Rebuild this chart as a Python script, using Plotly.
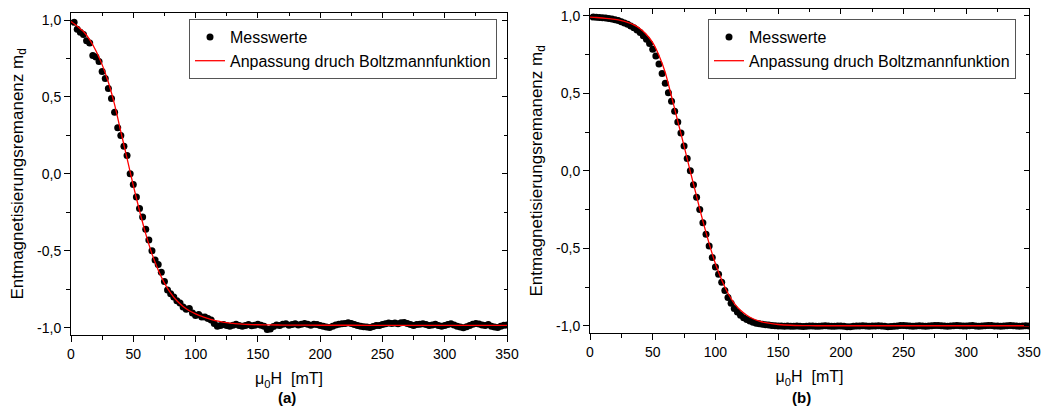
import plotly.graph_objects as go

# ---------------- data ----------------
field_mT = [
    2.5, 5, 7.5, 10, 12.5, 15, 17.5, 20, 22.5, 25,
    27.5, 30, 32.5, 35, 37.5, 40, 42.5, 45, 47.5, 50,
    52.5, 55, 57.5, 60, 62.5, 65, 67.5, 70, 72.5, 75,
    77.5, 80, 82.5, 85, 87.5, 90, 92.5, 95, 97.5, 100,
    102.5, 105, 107.5, 110, 112.5, 115, 117.5, 120, 122.5, 125,
    127.5, 130, 132.5, 135, 137.5, 140, 142.5, 145, 147.5, 150,
    152.5, 155, 157.5, 160, 162.5, 165, 167.5, 170, 172.5, 175,
    177.5, 180, 182.5, 185, 187.5, 190, 192.5, 195, 197.5, 200,
    202.5, 205, 207.5, 210, 212.5, 215, 217.5, 220, 222.5, 225,
    227.5, 230, 232.5, 235, 237.5, 240, 242.5, 245, 247.5, 250,
    252.5, 255, 257.5, 260, 262.5, 265, 267.5, 270, 272.5, 275,
    277.5, 280, 282.5, 285, 287.5, 290, 292.5, 295, 297.5, 300,
    302.5, 305, 307.5, 310, 312.5, 315, 317.5, 320, 322.5, 325,
    327.5, 330, 332.5, 335, 337.5, 340, 342.5, 345, 347.5, 350,
]

md_a = [
    0.985, 0.94, 0.92, 0.905, 0.865, 0.85, 0.77, 0.76, 0.73, 0.665,
    0.62, 0.555, 0.49, 0.40, 0.30, 0.25, 0.18, 0.12, 0.00, -0.07,
    -0.15, -0.225, -0.28, -0.36, -0.43, -0.50, -0.56, -0.59, -0.64, -0.70,
    -0.755, -0.78, -0.80, -0.825, -0.84, -0.865, -0.88, -0.875, -0.905, -0.92,
    -0.915, -0.93, -0.93, -0.94, -0.95, -0.972, -0.99, -0.985, -0.98, -0.986,
    -0.99, -0.984, -0.978, -0.985, -0.99, -0.986, -0.98, -0.988, -0.984, -0.978,
    -0.984, -0.99, -1.012, -1.008, -0.992, -0.982, -0.985, -0.978, -0.975, -0.984,
    -0.98, -0.974, -0.982, -0.978, -0.972, -0.978, -0.984, -0.978, -0.98, -0.986,
    -0.99, -0.996, -0.998, -0.99, -0.982, -0.978, -0.975, -0.972, -0.968, -0.972,
    -0.98, -0.985, -0.99, -0.994, -0.996, -0.998, -0.992, -0.986, -0.985, -0.98,
    -0.975, -0.97, -0.972, -0.97, -0.975, -0.968, -0.966, -0.972, -0.98, -0.985,
    -0.98, -0.978, -0.975, -0.98, -0.986, -0.982, -0.978, -0.985, -0.99, -0.986,
    -0.98, -0.975, -0.982, -0.99, -0.996, -1.0, -0.994, -0.985, -0.978, -0.972,
    -0.976, -0.982, -0.985, -0.98, -0.99, -0.996, -0.998, -0.99, -0.984, -0.982,
]

md_b = [
    0.993, 0.992, 0.99, 0.989, 0.987, 0.984, 0.98, 0.976, 0.97, 0.963,
    0.955, 0.946, 0.936, 0.924, 0.91, 0.893, 0.873, 0.85, 0.822, 0.785,
    0.742, 0.69, 0.628, 0.565, 0.505, 0.45, 0.385, 0.315, 0.245, 0.16,
    0.08, 0.0, -0.09, -0.17, -0.25, -0.335, -0.41, -0.485, -0.56, -0.62,
    -0.668, -0.72, -0.772, -0.818, -0.855, -0.888, -0.912, -0.932, -0.948, -0.96,
    -0.97, -0.978, -0.984, -0.988, -0.991, -0.994, -0.996, -0.998, -1.0, -1.001,
    -1.002, -1.003, -1.002, -1.004, -1.003, -1.002, -1.004, -1.005, -1.003, -1.002,
    -1.001, -1.003, -1.004, -1.002, -1.0, -1.002, -1.003, -1.004, -1.002, -1.001,
    -1.003, -1.006, -1.007, -1.004, -1.002, -1.001, -1.0, -1.002, -1.003, -1.002,
    -1.001, -1.0, -1.002, -1.004, -1.006, -1.005, -1.003, -1.001, -0.999, -0.998,
    -1.0, -1.002, -1.003, -1.001, -1.0, -1.002, -1.003, -1.002, -1.0, -0.999,
    -0.998, -1.0, -1.001, -1.003, -1.002, -1.0, -0.999, -1.0, -1.002, -1.001,
    -1.0, -0.999, -1.001, -1.003, -1.002, -1.0, -0.998, -0.999, -1.001, -1.002,
    -1.003, -1.002, -1.0, -0.999, -1.0, -1.002, -1.003, -1.001, -1.0, -1.002,
]

fit_mT = [
    0, 5, 10, 15, 20, 25, 30, 35, 40, 45, 50, 55, 60, 65, 70, 75, 80, 85, 90, 95,
    100, 105, 110, 115, 120, 125, 130, 135, 140, 145, 150,
    160, 170, 180, 200, 225, 250, 275, 300, 325, 350,
]

fit_a = [
    0.99, 0.96, 0.925, 0.872, 0.80, 0.71, 0.595, 0.45, 0.275, 0.10,
    -0.075, -0.24, -0.39, -0.52, -0.625, -0.71, -0.775, -0.825, -0.862, -0.89,
    -0.91, -0.927, -0.94, -0.952, -0.96, -0.967, -0.972, -0.975, -0.978, -0.98, -0.981,
    -0.982, -0.983, -0.983, -0.984, -0.984, -0.985, -0.985, -0.985, -0.985, -0.985,
]

fit_b = [
    0.992, 0.99, 0.987, 0.983, 0.978, 0.97, 0.958, 0.942, 0.917, 0.88,
    0.828, 0.745, 0.635, 0.48, 0.32, 0.16, -0.005, -0.165, -0.325, -0.47,
    -0.6, -0.705, -0.79, -0.855, -0.9, -0.932, -0.955, -0.97, -0.98, -0.987, -0.992,
    -0.997, -0.999, -1.0, -1.0, -1.0, -1.0, -1.0, -1.0, -1.0, -1.0,
]

y_tickvals = [-1.0, -0.5, 0.0, 0.5, 1.0]
y_ticktext = ["-1,0", "-0,5", "0,0", "0,5", "1,0"]
x_tickvals = [0, 50, 100, 150, 200, 250, 300, 350]

assert len(field_mT) == len(md_a) == len(md_b)
assert len(fit_mT) == len(fit_a) == len(fit_b)

# ---------------- style ----------------
FONT = "Liberation Sans, Arial, sans-serif"
W, H = 1044, 412

panels = [
    dict(md=md_a, fit=fit_a, xdom=(71, 507), ydom=(12.7, 335), yr=1.0475,
         legend="legend", leg_left=189, leg_top=19, caption="(a)", cap_x=287),
    dict(md=md_b, fit=fit_b, xdom=(590, 1029), ydom=(9, 332.7), yr=1.045,
         legend="legend2", leg_left=708, leg_top=19, caption="(b)", cap_x=801),
]

fig = go.Figure()
layout = dict(
    template="none",
    width=W, height=H, margin=dict(l=0, r=0, t=0, b=0, autoexpand=False),
    paper_bgcolor="white", plot_bgcolor="white",
    font=dict(family=FONT, size=14, color="black"),
    annotations=[],
)

for i, p in enumerate(panels):
    n = i + 1
    xa = "x" if n == 1 else f"x{2 * n - 1}"
    ya = "y" if n == 1 else f"y{2 * n - 1}"
    xb = f"x{2 * n}"
    yb = f"y{2 * n}"
    xk = "xaxis" if n == 1 else f"xaxis{2 * n - 1}"
    yk = "yaxis" if n == 1 else f"yaxis{2 * n - 1}"
    xk2 = f"xaxis{2 * n}"
    yk2 = f"yaxis{2 * n}"

    fig.add_trace(go.Scatter(
        x=field_mT, y=p["md"], mode="markers", name="Messwerte",
        marker=dict(color="black", size=7, line=dict(width=0)),
        xaxis=xa, yaxis=ya, legend=p["legend"],
    ))
    fig.add_trace(go.Scatter(
        x=fit_mT, y=p["fit"], mode="lines", name="Anpassung druch Boltzmannfunktion",
        line=dict(color="#ff0000", width=1.3, shape="spline", smoothing=0.6),
        xaxis=xa, yaxis=ya, legend=p["legend"],
    ))
    # empty trace creating the overlay axes used for inward mirror ticks
    fig.add_trace(go.Scatter(x=[], y=[], xaxis=xb, yaxis=yb, showlegend=False,
                             hoverinfo="skip"))

    xd = [p["xdom"][0] / W, p["xdom"][1] / W]
    yd = [1 - p["ydom"][1] / H, 1 - p["ydom"][0] / H]
    yr = [-p["yr"], p["yr"]]

    layout[xk] = dict(
        domain=xd, range=[0, 350], anchor=ya, automargin=False,
        tickmode="array", tickvals=x_tickvals,
        ticks="outside", ticklen=6, tickwidth=1, tickcolor="black",
        minor=dict(tickmode="linear", tick0=0, dtick=25, ticks="outside",
                   ticklen=4, tickcolor="black"),
        showline=True, linecolor="black", linewidth=1, mirror=True,
        showgrid=False, zeroline=False,
        tickfont=dict(size=14),
        title=dict(text="\u03bc<sub>0</sub>H \u00a0[mT]", font=dict(size=16),
                   standoff=12),
    )
    layout[yk] = dict(
        domain=yd, range=yr, anchor=xa, automargin=False,
        tickmode="array", tickvals=y_tickvals, ticktext=y_ticktext,
        ticks="outside", ticklen=6, tickwidth=1, tickcolor="black",
        minor=dict(tickmode="linear", tick0=0, dtick=0.25, ticks="outside",
                   ticklen=4, tickcolor="black"),
        showline=True, linecolor="black", linewidth=1, mirror=True,
        showgrid=False, zeroline=False,
        tickfont=dict(size=14),
        title=dict(text="Entmagnetisierungsremanenz m<sub>d</sub>",
                   font=dict(size=17), standoff=9),
    )
    layout[xk2] = dict(
        overlaying=xa, side="top", anchor=ya, range=[0, 350], automargin=False,
        tickmode="array", tickvals=x_tickvals, showticklabels=False,
        ticks="inside", ticklen=5, tickcolor="black",
        minor=dict(tickmode="linear", tick0=0, dtick=25, ticks="inside",
                   ticklen=3, tickcolor="black"),
        showline=False, showgrid=False, zeroline=False,
    )
    layout[yk2] = dict(
        overlaying=ya, side="right", anchor=xa, range=yr, automargin=False,
        tickmode="array", tickvals=y_tickvals, showticklabels=False,
        ticks="inside", ticklen=5, tickcolor="black",
        minor=dict(tickmode="linear", tick0=0, dtick=0.25, ticks="inside",
                   ticklen=3, tickcolor="black"),
        showline=False, showgrid=False, zeroline=False,
    )

    layout[p["legend"]] = dict(
        x=p["leg_left"] / W, y=1 - p["leg_top"] / H, xanchor="left", yanchor="top",
        bgcolor="white", bordercolor="#555555", borderwidth=1,
        font=dict(size=16, family=FONT), tracegroupgap=0,
    )

    layout["annotations"].append(dict(
        text=f"<b>{p['caption']}</b>", x=p["cap_x"] / W, y=1 - 397 / H,
        xref="paper", yref="paper", showarrow=False,
        xanchor="center", yanchor="middle", font=dict(size=15),
    ))

fig.update_layout(**layout)
fig.write_html(
    "out.html",
    config={"displayModeBar": False},
    post_script="document.body.style.margin='0';document.body.style.padding='0';",
)
